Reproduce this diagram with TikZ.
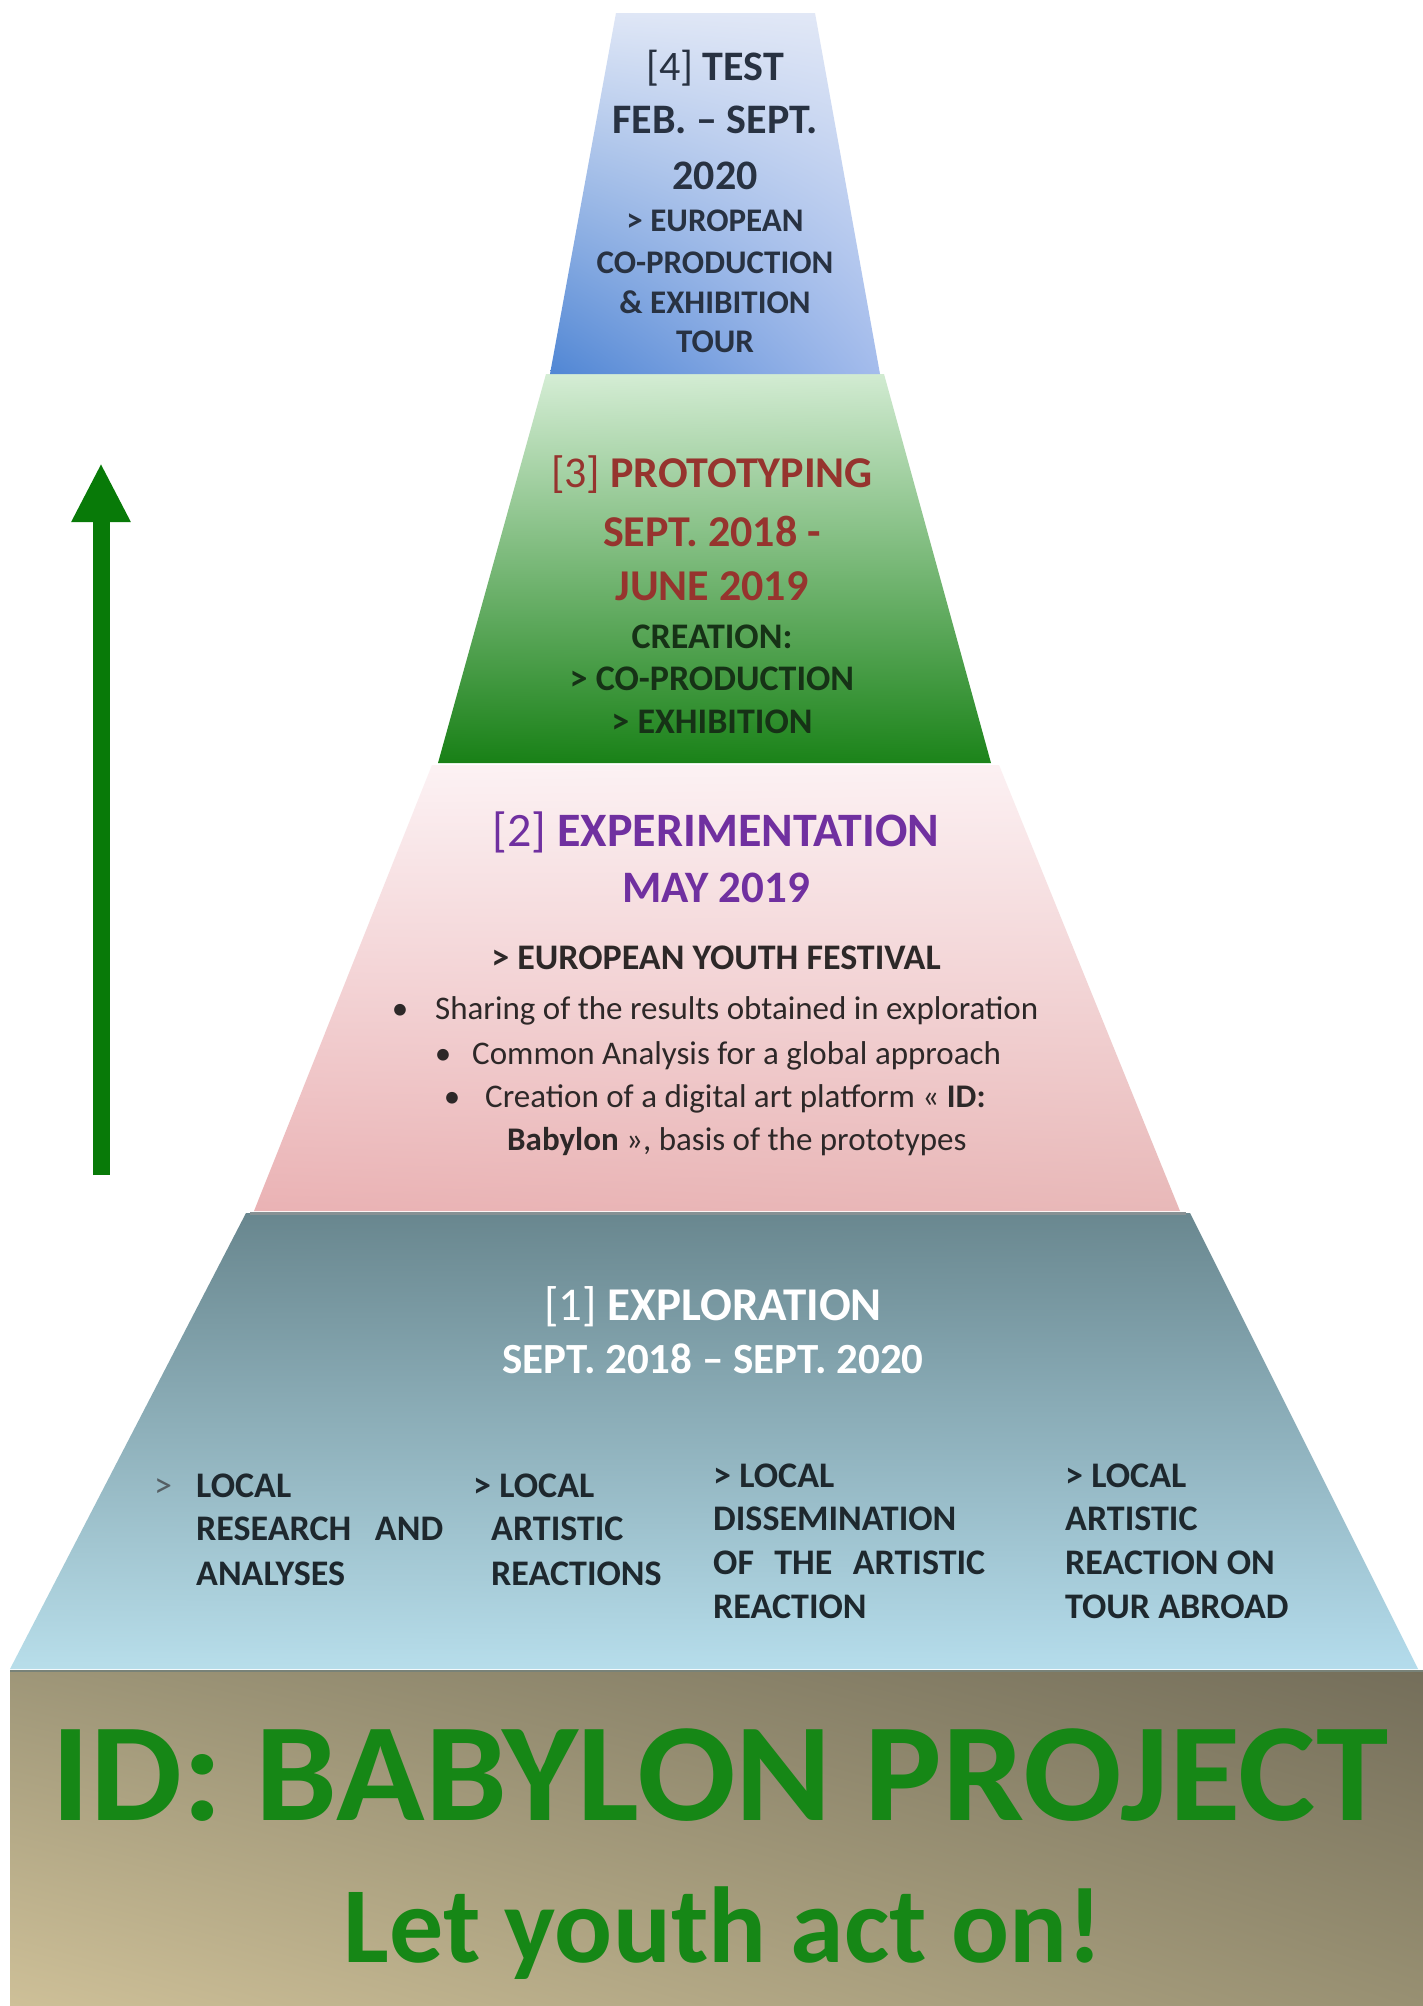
\documentclass[tikz,border=0pt]{standalone}
\usepackage{fontspec}
\usepackage{graphicx}
\setmainfont{Carlito}
\usetikzlibrary{arrows.meta,shadings}
\definecolor{cfour}{RGB}{40,50,66}
\definecolor{cthreeh}{RGB}{150,52,46}
\definecolor{cthrees}{RGB}{22,50,22}
\definecolor{ctwoh}{RGB}{112,48,160}
\definecolor{ctwot}{RGB}{45,40,40}
\definecolor{conet}{RGB}{30,40,46}
\definecolor{cgrey}{RGB}{85,95,100}
\definecolor{cbase}{RGB}{22,135,22}
\definecolor{carrow}{RGB}{8,122,8}
% shading colours
\definecolor{bUL}{RGB}{158,150,120}\definecolor{bUR}{RGB}{116,110,90}
\definecolor{bLL}{RGB}{206,192,152}\definecolor{bLR}{RGB}{152,144,114}
\definecolor{bLine}{RGB}{120,130,120}
\definecolor{oUL}{RGB}{104,134,142}\definecolor{oUR}{RGB}{106,136,144}
\definecolor{oLL}{RGB}{184,222,234}\definecolor{oLR}{RGB}{180,220,236}
\definecolor{oLine}{RGB}{135,145,148}
\definecolor{wUL}{RGB}{252,242,244}\definecolor{wUR}{RGB}{252,240,242}
\definecolor{wLL}{RGB}{234,178,180}\definecolor{wLR}{RGB}{232,184,184}
\definecolor{gUL}{RGB}{214,238,214}\definecolor{gUR}{RGB}{208,234,208}
\definecolor{gLL}{RGB}{24,128,22}\definecolor{gLR}{RGB}{28,132,26}
\definecolor{fUL}{RGB}{222,230,246}\definecolor{fUR}{RGB}{226,232,246}
\definecolor{fLL}{RGB}{80,134,212}\definecolor{fLR}{RGB}{164,188,236}
\begin{document}
\begin{tikzpicture}[x=1pt,y=-1pt,
  txt/.style={inner sep=0pt, anchor=base},
  hfour/.style={txt, text=cfour, font=\fontsize{42}{50}\selectfont\bfseries},
  sfour/.style={txt, text=cfour, font=\fontsize{33}{40}\selectfont\bfseries},
  hthree/.style={txt, text=cthreeh, font=\fontsize{44}{52}\selectfont\bfseries},
  sthree/.style={txt, text=cthrees, font=\fontsize{36}{43}\selectfont\bfseries},
  htwo/.style={txt, text=ctwoh, font=\fontsize{48}{56}\selectfont\bfseries},
  mtwo/.style={txt, text=ctwoh, font=\fontsize{45}{54}\selectfont\bfseries},
  stwo/.style={txt, text=ctwot, font=\fontsize{36}{43}\selectfont\bfseries},
  btwo/.style={txt, anchor=base west, text=ctwot, font=\fontsize{33}{40}\selectfont},
  dottwo/.style={txt, text=ctwot, font=\fontsize{33}{40}\selectfont},
  hone/.style={txt, text=white, font=\fontsize{47}{56}\selectfont\bfseries},
  done/.style={txt, text=white, font=\fontsize{43}{52}\selectfont\bfseries},
  colone/.style={txt, anchor=base west, text=conet, font=\fontsize{36}{43}\selectfont\bfseries},
  title/.style={txt, text=cbase, font=\fontsize{140}{160}\selectfont\bfseries},
  slogan/.style={txt, text=cbase, font=\fontsize{108}{128}\selectfont\bfseries}
]
\useasboundingbox (0,0) rectangle (1423,2006);
\fill[white] (0,0) rectangle (1423,2006);

% ---------- base block ----------
\shade[upper left=bUL, upper right=bUR, lower left=bLL, lower right=bLR]
  (10,1670) rectangle (1423,2006);
\draw[line width=2pt, bLine] (10,1671) -- (1423,1671);

% ---------- level 1 ----------
\shade[upper left=oUL, upper right=oUR, lower left=oLL, lower right=oLR]
  (246,1213) -- (1190,1213) -- (1418,1669) -- (10,1669) -- cycle;
\draw[line width=3pt, oLine] (250,1213) -- (1186,1213);

% ---------- level 2 ----------
\shade[upper left=wUL, upper right=wUR, lower left=wLL, lower right=wLR]
  (432,765) -- (999,765) -- (1180,1211) -- (254,1211) -- cycle;

% ---------- level 3 ----------
\shade[upper left=gUL, upper right=gUR, lower left=gLL, lower right=gLR]
  (546,374) -- (884,374) -- (991,763) -- (438,763) -- cycle;

% ---------- level 4 ----------
\shade[upper left=fUL, upper right=fUR, lower left=fLL, lower right=fLR]
  (616,13) -- (815,13) -- (880,374) -- (550,374) -- cycle;

% ---------- arrow ----------
\coordinate (arrS) at (101,1175);
\coordinate (arrE) at (101,463);
\draw[carrow, line width=17pt, -{Triangle[width=55pt,length=59pt]}] (arrS) -- (arrE);

% ---------- level 4 texts ----------
\node[hfour] (t4a) at (715,80)  {{\mdseries[4]} TEST};
\node[hfour] (t4b) at (715,133) {FEB. – SEPT.};
\node[hfour] (t4c) at (715,189) {2020};
\node[sfour] (t4d) at (715,231) {> EUROPEAN};
\node[sfour] (t4e) at (715,273) {CO-PRODUCTION};
\node[sfour] (t4f) at (715,313) {\& EXHIBITION};
\node[sfour] (t4g) at (715,352) {TOUR};

% ---------- level 3 texts ----------
\node[hthree] (t3a) at (712,487) {{\mdseries[3]} PROTOTYPING};
\node[hthree] (t3b) at (712,546) {SEPT. 2018 -};
\node[hthree] (t3c) at (712,600) {JUNE 2019};
\node[sthree] (t3d) at (712,648) {CREATION:};
\node[sthree] (t3e) at (712,690) {> CO-PRODUCTION};
\node[sthree] (t3f) at (712,733) {> EXHIBITION};

% ---------- level 2 texts ----------
\node[htwo] (t2a) at (716,846) {{\mdseries[2]} EXPERIMENTATION};
\node[mtwo] (t2b) at (716,902) {MAY 2019};
\node[stwo] (t2c) at (716,969) {> EUROPEAN YOUTH FESTIVAL};
\node[dottwo] (b2a) at (400,1019) {•};
\node[btwo] (t2d) at (435,1019) {Sharing of the results obtained in exploration};
\node[dottwo] (b2b) at (443,1064) {•};
\node[btwo] (t2e) at (472,1064) {Common Analysis for a global approach};
\node[dottwo] (b2c) at (452,1107) {•};
\node[btwo] (t2f) at (485,1107) {Creation of a digital art platform « \textbf{ID:}};
\node[btwo] (t2g) at (507,1150) {\textbf{Babylon} », basis of the prototypes};

% ---------- level 1 texts ----------
\node[hone] (t1a) at (713,1320) {{\mdseries[1]} EXPLORATION};
\node[done] (t1b) at (713,1373) {SEPT. 2018 – SEPT. 2020};

\node[colone, text=cgrey, font=\fontsize{36}{43}\selectfont] (c1m) at (154,1497) {>};
\node[colone] (c1a) at (196,1497) {LOCAL};
\node[colone] (c1b) at (196,1540) {\hbox to 247pt{RESEARCH\hfill AND}};
\node[colone] (c1c) at (196,1585) {ANALYSES};

\node[colone] (c2a) at (473,1497) {> LOCAL};
\node[colone] (c2b) at (491,1540) {ARTISTIC};
\node[colone] (c2c) at (491,1585) {REACTIONS};

\node[colone] (c3a) at (713,1487) {> LOCAL};
\node[colone] (c3b) at (713,1530) {DISSEMINATION};
\node[colone] (c3c) at (713,1574) {\hbox to 272pt{OF\hfill THE\hfill ARTISTIC}};
\node[colone] (c3d) at (713,1618) {REACTION};

\node[colone] (c4a) at (1065,1487) {> LOCAL};
\node[colone] (c4b) at (1065,1530) {ARTISTIC};
\node[colone] (c4c) at (1065,1574) {REACTION ON};
\node[colone] (c4d) at (1065,1618) {TOUR ABROAD};

% ---------- base texts ----------
\node[title] (ttl) at (720,1820) {\scalebox{1.043}[1]{ID: BABYLON PROJECT}};
\node[slogan] (slg) at (723,1962) {Let youth act on!};
\end{tikzpicture}
\end{document}
